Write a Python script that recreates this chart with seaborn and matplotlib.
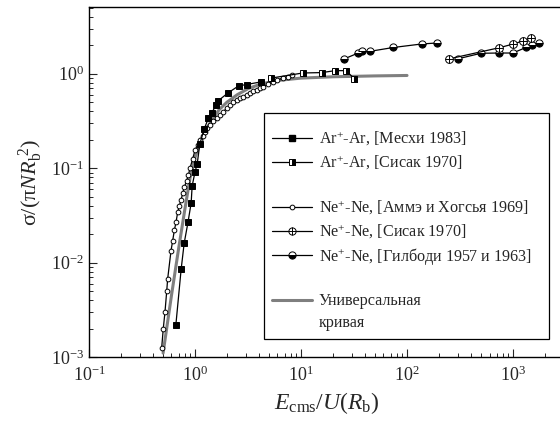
import numpy as np
import pandas as pd
import matplotlib
matplotlib.use("Agg")
import matplotlib.pyplot as plt
from matplotlib.lines import Line2D
from matplotlib.patches import Rectangle
from matplotlib.legend_handler import HandlerTuple
import seaborn as sns

# ---------------- data ----------------
ar_meskhi_x = [0.66, 0.74, 0.79, 0.86, 0.92, 0.94, 1.0, 1.05, 1.11, 1.22, 1.34, 1.44,
               1.57, 1.66, 2.06, 2.58, 3.07, 4.17]
ar_meskhi_y = [0.0022, 0.0085, 0.016, 0.027, 0.043, 0.065, 0.091, 0.112, 0.18, 0.26,
               0.34, 0.38, 0.47, 0.52, 0.63, 0.745, 0.77, 0.82]

ar_sisak_x = [5.2, 10.4, 15.7, 21.0, 26.6, 31.9]
ar_sisak_y = [0.90, 1.02, 1.03, 1.08, 1.08, 0.885]

ne_amme_x = [0.485, 0.502, 0.521, 0.541, 0.552, 0.594, 0.616, 0.638, 0.662, 0.687,
             0.711, 0.738, 0.765, 0.793, 0.835, 0.865, 0.897, 0.95, 1.0, 1.06, 1.115,
             1.18, 1.24, 1.31, 1.38, 1.49, 1.60, 1.72, 1.85, 2.0, 2.14, 2.30, 2.47,
             2.66, 2.86, 3.08, 3.31, 3.56, 3.82, 4.10, 4.42, 4.88, 5.4, 6.0, 6.7,
             7.5, 8.3]
ne_amme_y = [0.00126, 0.0020, 0.0030, 0.0050, 0.0067, 0.0134, 0.0171, 0.0219, 0.0268,
             0.0343, 0.0396, 0.046, 0.054, 0.063, 0.074, 0.084, 0.10, 0.125, 0.155,
             0.178, 0.199, 0.222, 0.243, 0.265, 0.287, 0.313, 0.338, 0.368, 0.397,
             0.433, 0.468, 0.50, 0.529, 0.552, 0.574, 0.598, 0.623, 0.650, 0.676,
             0.705, 0.733, 0.78, 0.82, 0.86, 0.90, 0.93, 0.96]

ne_sisak_x = [250, 743, 993, 1242, 1490]
ne_sisak_y = [1.44, 1.89, 2.06, 2.23, 2.40]

ne_gilbody1_x = [25.6, 34.7, 37.4, 44.8, 74.3, 138, 191]
ne_gilbody1_y = [1.44, 1.66, 1.73, 1.73, 1.90, 2.07, 2.12]
ne_gilbody2_x = [301, 499, 743, 993, 1327, 1500, 1770]
ne_gilbody2_y = [1.44, 1.65, 1.66, 1.66, 1.90, 2.03, 2.12]

univ_x = [0.50, 0.60, 0.70, 0.80, 0.90, 1.0, 1.1, 1.25, 1.45, 1.7, 2.0, 2.5, 3.2,
          4.2, 6.0, 10, 20, 50, 100]
univ_y = [0.0011, 0.0045, 0.014, 0.036, 0.080, 0.13, 0.175, 0.245, 0.33, 0.42, 0.50,
          0.60, 0.70, 0.78, 0.85, 0.90, 0.93, 0.95, 0.96]

legend_labels = ["Ar$^{+}$-Ar, [Месхи 1983]",
                 "Ar$^{+}$-Ar, [Сисак 1970]",
                 "Ne$^{+}$-Ne, [Аммэ и Хогсья 1969]",
                 "Ne$^{+}$-Ne, [Сисак 1970]",
                 "Ne$^{+}$-Ne, [Гилбоди 1957 и 1963]",
                 "Универсальная",
                 "кривая"]

# ---------------- style ----------------
sns.set_style("ticks")
plt.rcParams["font.family"] = ["Liberation Serif", "DejaVu Serif"]
plt.rcParams["mathtext.fontset"] = "custom"
plt.rcParams["mathtext.rm"] = "Liberation Serif"
plt.rcParams["mathtext.it"] = "Liberation Serif:italic"
plt.rcParams["mathtext.bf"] = "Liberation Serif:bold"

fig = plt.figure(figsize=(5.6, 4.28), dpi=100)
ax = fig.add_axes([89 / 560, 71 / 428, 474.6 / 560, 350 / 428])

gray = "#7f7f7f"
LW = 0.9

sns.lineplot(x=univ_x, y=univ_y, ax=ax, color=gray, lw=2.2, sort=False,
             estimator=None, legend=False, zorder=2)
sns.lineplot(x=ne_amme_x, y=ne_amme_y, ax=ax, color="k", lw=LW, sort=False,
             estimator=None, legend=False, marker="o", ms=3.4, mfc="white",
             mec="k", mew=0.7, zorder=3)
sns.lineplot(x=ar_meskhi_x, y=ar_meskhi_y, ax=ax, color="k", lw=LW, sort=False,
             estimator=None, legend=False, marker="s", ms=5, mfc="k", mec="k",
             mew=0.7, zorder=4)
sns.lineplot(x=ar_sisak_x, y=ar_sisak_y, ax=ax, color="k", lw=LW, sort=False,
             estimator=None, legend=False, marker="s", ms=5, fillstyle="right",
             mfc="k", mfcalt="white", mec="k", mew=0.7, zorder=4)
for gx, gy in [(ne_gilbody1_x, ne_gilbody1_y), (ne_gilbody2_x, ne_gilbody2_y)]:
    sns.lineplot(x=gx, y=gy, ax=ax, color="k", lw=LW, sort=False, estimator=None,
                 legend=False, marker="o", ms=5.2, fillstyle="bottom", mfc="k",
                 mfcalt="white", mec="k", mew=0.7, zorder=4)
sns.lineplot(x=ne_sisak_x, y=ne_sisak_y, ax=ax, color="k", lw=LW, sort=False,
             estimator=None, legend=False, marker="o", ms=5.6, mfc="white", mec="k",
             mew=0.7, zorder=5)
ax.plot(ne_sisak_x, ne_sisak_y, ls="none", marker="+", ms=5.6, mec="k", mew=0.7,
        zorder=6)

ax.set_xscale("log")
ax.set_yscale("log")
ax.set_xlim(0.1, 3000)
ax.set_ylim(1e-3, 5.1)

ax.tick_params(which="both", direction="in", top=False, right=False)
ax.tick_params(which="major", length=6, width=0.8, labelsize=13)
ax.tick_params(axis="x", which="major", pad=6)
ax.tick_params(which="minor", length=3, width=0.7)
ax.xaxis.set_minor_locator(matplotlib.ticker.LogLocator(base=10, subs=np.arange(2, 10), numticks=20))
ax.yaxis.set_minor_locator(matplotlib.ticker.LogLocator(base=10, subs=np.arange(2, 10), numticks=20))
for sp in ax.spines.values():
    sp.set_linewidth(1.0)
    sp.set_color("k")

ax.set_xlabel(r"$E_{\mathrm{cms}}/U(R_{\mathrm{b}})$", fontsize=17, labelpad=4)
ax.set_ylabel(r"σ/(π$NR_{\mathrm{b}}^{\ 2}$)", fontsize=16, labelpad=4)

# ---------------- legend ----------------
blank = Line2D([], [], color="none")
h_meskhi = Line2D([], [], color="k", lw=LW, marker="s", ms=5, mfc="k", mec="k")
h_arsisak = Line2D([], [], color="k", lw=LW, marker="s", ms=5, fillstyle="right",
                   mfc="k", mfcalt="white", mec="k", mew=0.7)
h_amme = Line2D([], [], color="k", lw=LW, marker="o", ms=3.4, mfc="white", mec="k",
                mew=0.7)
h_nesisak_o = Line2D([], [], color="k", lw=LW, marker="o", ms=5.2, mfc="white",
                     mec="k", mew=0.7)
h_nesisak_p = Line2D([], [], color="none", marker="+", ms=5.2, mec="k", mew=0.7)
h_gil = Line2D([], [], color="k", lw=LW, marker="o", ms=5.2, fillstyle="bottom",
               mfc="k", mfcalt="white", mec="k", mew=0.7)
h_univ = Line2D([], [], color=gray, lw=2.2)

handles = [h_meskhi, h_arsisak, blank, h_amme, (h_nesisak_o, h_nesisak_p), h_gil,
           blank, h_univ, blank]
labels = [legend_labels[0], legend_labels[1], " ", legend_labels[2],
          legend_labels[3], legend_labels[4], " ", legend_labels[5], legend_labels[6]]

leg = ax.legend(handles, labels, loc="upper left",
                bbox_to_anchor=(272 / 560, 1 - 130 / 428),
                bbox_transform=fig.transFigure, borderaxespad=0,
                frameon=False,
                fontsize=11.6, handlelength=2.5, handletextpad=0.4,
                labelspacing=0.33, borderpad=0.0,
                handler_map={tuple: HandlerTuple(ndivide=1)})

frame = Rectangle((264 / 560, 1 - 339 / 428), (549 - 264) / 560, (339 - 113) / 428,
                  transform=fig.transFigure, fill=False, edgecolor="k", lw=0.9,
                  zorder=10)
fig.add_artist(frame)

fig.savefig("out.png", dpi=100)
